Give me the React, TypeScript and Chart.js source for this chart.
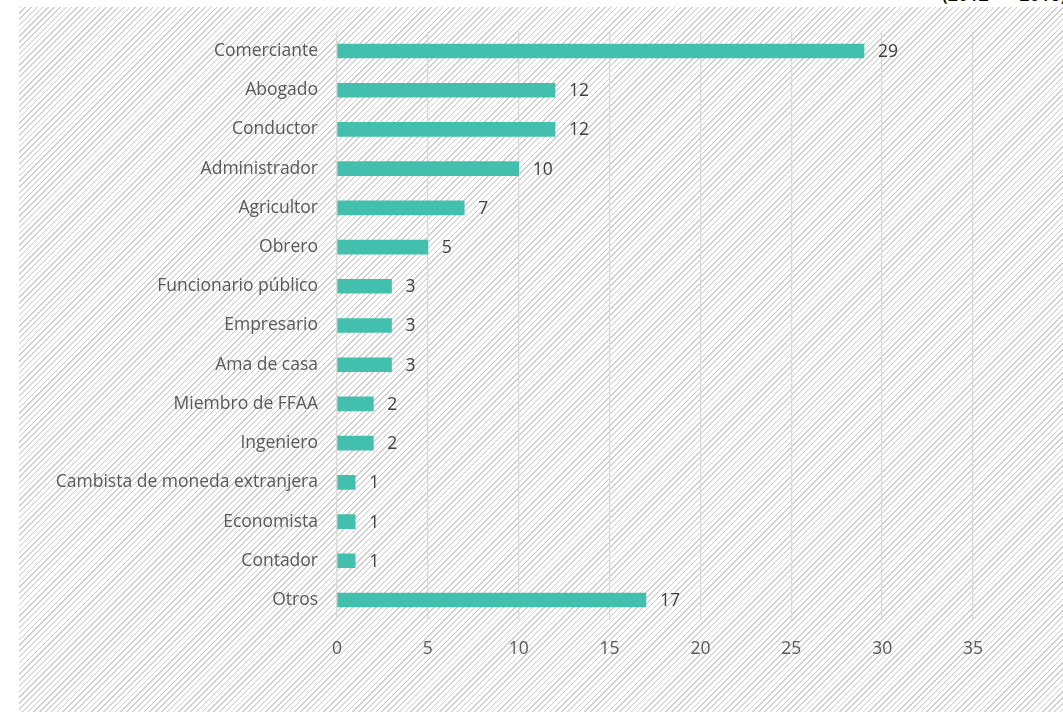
import React, { useEffect, useRef } from "react";
import { Chart, registerables } from "chart.js";

Chart.register(...registerables);

const categories = [
  "Comerciante",
  "Abogado",
  "Conductor",
  "Administrador",
  "Agricultor",
  "Obrero",
  "Funcionario público",
  "Empresario",
  "Ama de casa",
  "Miembro de FFAA",
  "Ingeniero",
  "Cambista de moneda extranjera",
  "Economista",
  "Contador",
  "Otros",
];
const values = [29, 12, 12, 10, 7, 5, 3, 3, 3, 2, 2, 1, 1, 1, 17];
const xMin = 0;
const xMax = 35;
const xStep = 5;
const subtitle = "(2012 – 2016)";

const FONT = "'Open Sans', 'DejaVu Sans', sans-serif";
const FS = 17.5;

const valueLabels = {
  id: "valueLabels",
  afterDatasetsDraw(chart: any) {
    const ctx = chart.ctx;
    const meta = chart.getDatasetMeta(0);
    ctx.save();
    ctx.font = `${FS}px ${FONT}`;
    ctx.fillStyle = "#404040";
    ctx.textAlign = "left";
    ctx.textBaseline = "middle";
    meta.data.forEach((bar: any, i: number) => {
      ctx.fillText(String(values[i]), bar.x + 14, bar.y + 1);
    });
    ctx.restore();
  },
};

export default function App() {
  const ref = useRef<HTMLCanvasElement>(null);
  useEffect(() => {
    if (!ref.current) return;
    const chart = new Chart(ref.current, {
      type: "bar",
      data: {
        labels: categories,
        datasets: [
          {
            data: values,
            backgroundColor: "#43c0ad",
            borderWidth: 0,
            barThickness: 14,
          },
        ],
      },
      options: {
        indexAxis: "y",
        animation: false,
        responsive: false,
        maintainAspectRatio: false,
        layout: { padding: { top: 24.4, right: 90, left: 0, bottom: 0 } },
        plugins: {
          legend: { display: false },
          tooltip: { enabled: false },
        },
        scales: {
          x: {
            min: xMin,
            max: xMax,
            ticks: {
              stepSize: xStep,
              color: "#595959",
              font: { family: FONT, size: FS },
              padding: 19,
            },
            grid: { color: "#d9d9d9", lineWidth: 1.3, drawTicks: false },
            border: { display: false },
            afterFit(scale: any) {
              scale.height = 92.4;
            },
          },
          y: {
            ticks: {
              color: "#595959",
              font: { family: FONT, size: FS },
              padding: 0,
            },
            grid: { display: false, drawTicks: true, tickLength: 19 },
            border: { display: false },
            afterFit(scale: any) {
              scale.width = 318;
            },
          },
        },
      },
      plugins: [valueLabels],
    });
    return () => chart.destroy();
  }, []);

  return (
    <div>
      <div
        style={{
          position: "absolute",
          left: 942,
          top: -15,
          fontFamily: FONT,
          fontSize: 18,
          lineHeight: "18px",
          fontWeight: 600,
          wordSpacing: 6,
          color: "#000",
          whiteSpace: "nowrap",
        }}
      >
        {subtitle}
      </div>
      <div
        style={{
          position: "absolute",
          left: 19,
          top: 7,
          width: 1044,
          height: 705,
          backgroundImage:
            "repeating-linear-gradient(135deg, #cdcdcd 0px, #cdcdcd 0.9px, #ffffff 1.3px, #ffffff 4.1px)",
        }}
      >
        <canvas ref={ref} width={1044} height={705} style={{ display: "block" }} />
      </div>
    </div>
  );
}
